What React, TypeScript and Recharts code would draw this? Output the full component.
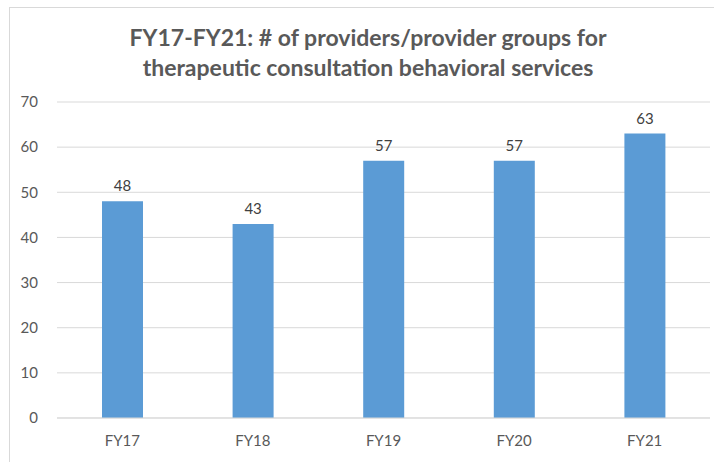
import { BarChart, Bar, XAxis, YAxis, CartesianGrid, LabelList } from 'recharts';

const years = ['FY17', 'FY18', 'FY19', 'FY20', 'FY21'];
const providers = [48, 43, 57, 57, 63];
const yTicks = [0, 10, 20, 30, 40, 50, 60, 70];

const data = years.map((year, i) => ({ year, value: providers[i] }));

const font = 'Lato, Carlito, "Open Sans", sans-serif';

const App = () => {
  return (
    <div
      style={{
        position: 'absolute',
        left: 0,
        top: 0,
        width: 714,
        height: 462,
        overflow: 'hidden',
        background: '#fff',
        fontFamily: font,
      }}
    >
      {/* chart frame, runs off the right and bottom edges */}
      <div
        style={{
          position: 'absolute',
          left: 9,
          top: 7,
          width: 800,
          height: 600,
          border: '1px solid #d9d9d9',
        }}
      />
      <div
        style={{
          position: 'absolute',
          left: 0,
          top: 22,
          width: 736,
          textAlign: 'center',
          fontSize: 23,
          fontWeight: 700,
          lineHeight: '30px',
          color: '#595959',
        }}
      >
        FY17-FY21: # of providers/provider groups for
        <br />
        therapeutic consultation behavioral services
      </div>
      <div style={{ position: 'absolute', left: 0, top: 0 }}>
        <BarChart
          width={714}
          height={462}
          data={data}
          margin={{ top: 102, right: 4, left: 0, bottom: 0 }}
        >
          <CartesianGrid vertical={false} stroke="#d9d9d9" strokeWidth={1} />
          <XAxis
            dataKey="year"
            height={44}
            axisLine={{ stroke: '#d9d9d9' }}
            tickLine={false}
            tickMargin={11}
            tick={{ fill: '#595959', fontSize: 15, fontFamily: font }}
          />
          <YAxis
            width={57}
            domain={[0, 70]}
            ticks={yTicks}
            axisLine={false}
            tickLine={false}
            tickMargin={13}
            tick={{ fill: '#595959', fontSize: 15, fontFamily: font }}
          />
          <Bar dataKey="value" fill="#5b9bd5" barSize={41} isAnimationActive={false}>
            <LabelList
              dataKey="value"
              position="top"
              offset={10}
              style={{ fill: '#404040', fontSize: 15, fontFamily: font }}
            />
          </Bar>
        </BarChart>
      </div>
    </div>
  );
};

export default App;
